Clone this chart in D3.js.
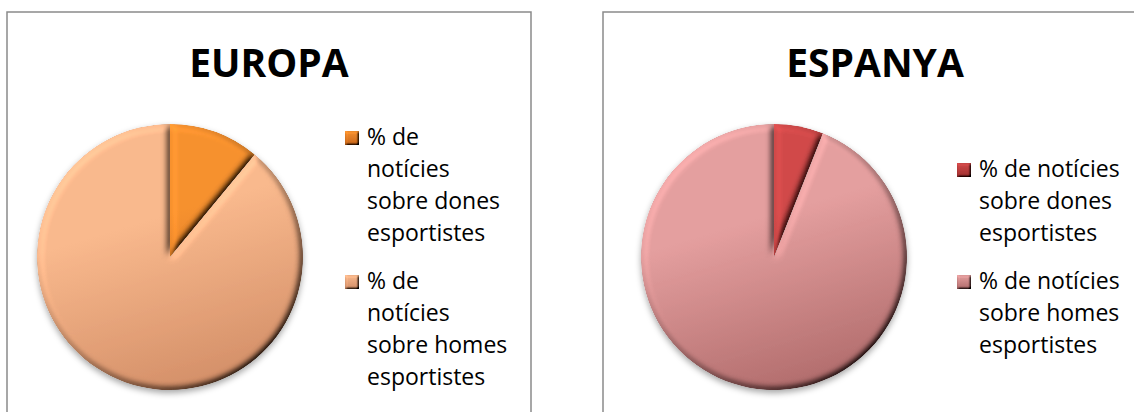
<!DOCTYPE html>
<html>
<head>
<meta charset="utf-8">
<script src="https://cdn.jsdelivr.net/npm/d3@7"></script>
<style>
  body { margin: 0; background: #fff; }
  text { font-family: "Open Sans", "Liberation Sans", sans-serif; fill: #000; }
</style>
</head>
<body>
<svg id="chart" width="1134" height="412"></svg>
<script>
// chart data
const titles = ['EUROPA', 'ESPANYA'];
const categories = ['dones', 'homes'];
const europaValues = [11, 89];
const espanyaValues = [6, 94];
// legend text, wrapped the way each legend shows it
const europaLegend = [
    ['% de', 'notícies', 'sobre dones', 'esportistes'],
    ['% de', 'notícies', 'sobre homes', 'esportistes']
];
const espanyaLegend = [
    ['% de notícies', 'sobre dones', 'esportistes'],
    ['% de notícies', 'sobre homes', 'esportistes']
];

// colours: [top, bottom] for each slice
const europaColors = [['#f8922f', '#c9661a'], ['#fbba8e', '#d48f68']];
const espanyaColors = [['#d24a4a', '#a02e2e'], ['#e6a0a0', '#b16c6c']];

const charts = [
    { title: titles[0], values: europaValues, legend: europaLegend, colors: europaColors,
      box: [7, 12, 524], titleX: 269, cx: 170, cy: 257, r: 133, legX: 345, legY: 145 },
    { title: titles[1], values: espanyaValues, legend: espanyaLegend, colors: espanyaColors,
      box: [603, 12, 560], titleX: 875, cx: 774, cy: 257, r: 133, legX: 957, legY: 177 }
];

const svg = d3.select('#chart');
const defs = svg.append('defs');

// bevel: light from top-left, edges lit / shaded
function bevelFilter(id, blur, scale) {
    const f = defs.append('filter').attr('id', id)
        .attr('x', '-10%').attr('y', '-10%').attr('width', '120%').attr('height', '120%');
    f.append('feGaussianBlur').attr('in', 'SourceAlpha').attr('stdDeviation', blur).attr('result', 'blur');
    f.append('feDiffuseLighting').attr('in', 'blur').attr('surfaceScale', scale)
        .attr('diffuseConstant', 1).attr('lighting-color', '#fff').attr('result', 'light')
        .append('feDistantLight').attr('azimuth', 225).attr('elevation', 55);
    f.append('feComposite').attr('in', 'SourceGraphic').attr('in2', 'light')
        .attr('operator', 'arithmetic').attr('k1', 1.2).attr('k2', 0).attr('k3', 0).attr('k4', 0)
        .attr('result', 'lit');
    f.append('feComposite').attr('in', 'lit').attr('in2', 'SourceAlpha').attr('operator', 'in');
}
bevelFilter('bevel', 3.5, 6);
bevelFilter('bevelSmall', 1.2, 3);

const shadow = defs.append('filter').attr('id', 'shadow')
    .attr('x', '-10%').attr('y', '-10%').attr('width', '120%').attr('height', '125%');
shadow.append('feDropShadow').attr('dx', 0).attr('dy', 3).attr('stdDeviation', 3)
    .attr('flood-color', '#000').attr('flood-opacity', 0.35);

charts.forEach((c, ci) => {
    const g = svg.append('g');

    // frame
    g.append('rect')
        .attr('x', c.box[0]).attr('y', c.box[1])
        .attr('width', c.box[2]).attr('height', 440)
        .attr('fill', '#fff').attr('stroke', '#8a8a8a').attr('stroke-width', 1.5);

    // title
    g.append('text')
        .attr('x', c.titleX).attr('y', 77)
        .attr('text-anchor', 'middle')
        .style('font-size', '39px').style('font-weight', 'bold')
        .text(c.title);

    // gradients per slice (pie-local coordinates)
    c.colors.forEach((col, i) => {
        const lg = defs.append('linearGradient').attr('id', `grad${ci}_${i}`)
            .attr('gradientUnits', 'userSpaceOnUse')
            .attr('x1', -c.r * 0.3).attr('y1', -c.r).attr('x2', c.r * 0.3).attr('y2', c.r);
        lg.append('stop').attr('offset', 0).attr('stop-color', col[0]);
        lg.append('stop').attr('offset', 0.35).attr('stop-color', col[0]);
        lg.append('stop').attr('offset', 1).attr('stop-color', col[1]);
        const sg = defs.append('linearGradient').attr('id', `lgrad${ci}_${i}`)
            .attr('x1', 0).attr('y1', 0).attr('x2', 0).attr('y2', 1);
        sg.append('stop').attr('offset', 0).attr('stop-color', col[0]);
        sg.append('stop').attr('offset', 1).attr('stop-color', col[1]);
    });

    // pie
    const pie = d3.pie().sort(null).value(d => d);
    const arc = d3.arc().innerRadius(0).outerRadius(c.r);

    const pg = g.append('g').attr('filter', 'url(#shadow)')
        .attr('transform', `translate(${c.cx},${c.cy})`);
    pg.selectAll('path')
        .data(pie(c.values))
        .join('path')
        .attr('d', arc)
        .attr('fill', (d, i) => `url(#grad${ci}_${i})`)
        .attr('filter', 'url(#bevel)');

    // legend
    const lineH = 32;
    let y = c.legY;
    c.legend.forEach((lines, i) => {
        g.append('rect')
            .attr('x', c.legX).attr('y', y - 14)
            .attr('width', 14).attr('height', 14)
            .attr('fill', `url(#lgrad${ci}_${i})`)
            .attr('filter', 'url(#bevelSmall)');
        const t = g.append('text')
            .attr('x', c.legX + 22).attr('y', y)
            .style('font-size', '23px');
        lines.forEach((ln, j) => {
            t.append('tspan').attr('x', c.legX + 22).attr('y', y + j * lineH).text(ln);
        });
        y += lines.length * lineH + 16;
    });
});
</script>
</body>
</html>
